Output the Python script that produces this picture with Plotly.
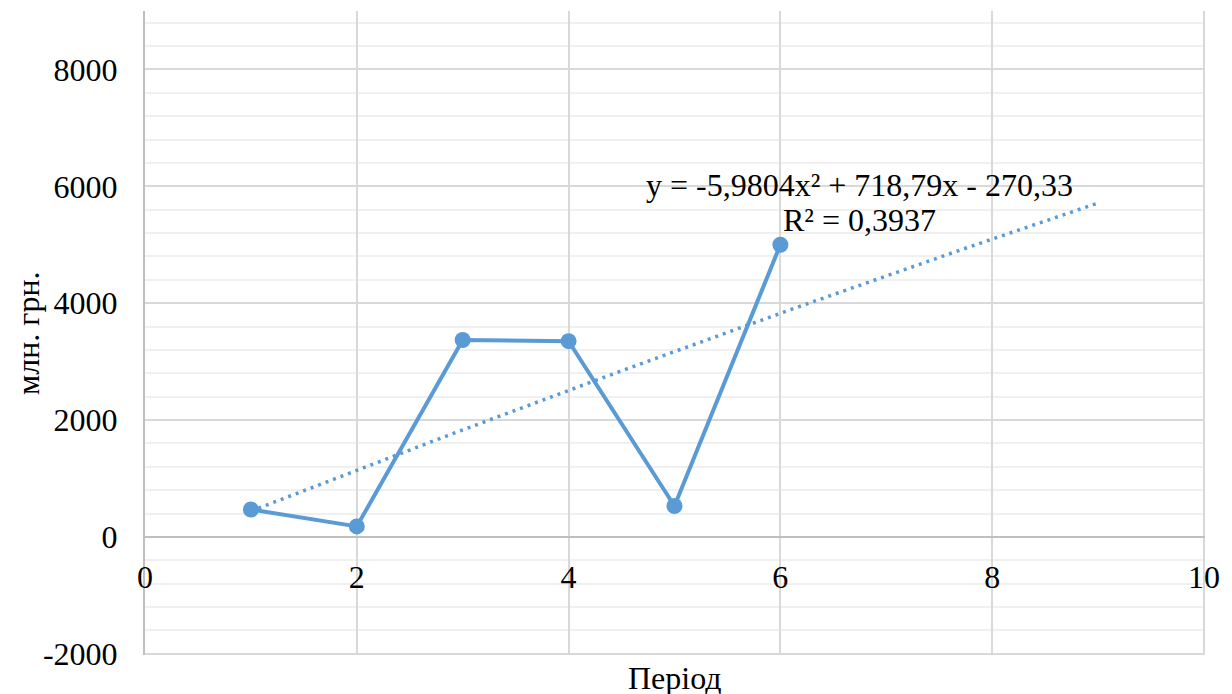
import numpy as np
import plotly.graph_objects as go

# Data
periods = [1, 2, 3, 4, 5, 6]
values = [470, 180, 3370, 3350, 530, 5000]

# Trendline (polynomial, order 2) coefficients as shown on the chart
trend_coefs = [-5.9804, 718.79, -270.33]
trend_x_range = [1, 9]

x_ticks = [0, 2, 4, 6, 8, 10]
y_ticks = [-2000, 0, 2000, 4000, 6000, 8000]
y_tick_text = ["-2000", "0", "2000", "4000", "6000", "8000"]

x_title = "Період"
y_title = "млн. грн."
eq_line1 = "y = -5,9804x² + 718,79x - 270,33"
eq_line2 = "R² = 0,3937"

COLOR = "#5B9BD5"
FONT = "Liberation Serif, Times New Roman, DejaVu Serif, serif"
FS = 32

tx = np.linspace(trend_x_range[0], trend_x_range[1], 100)
ty = np.polyval(trend_coefs, tx)

fig = go.Figure()
fig.add_trace(go.Scatter(
    x=tx, y=ty, mode="lines",
    line=dict(color=COLOR, width=3.5, dash="3px,5px"),
    hoverinfo="skip", showlegend=False,
))
fig.add_trace(go.Scatter(
    x=periods, y=values, mode="lines+markers",
    line=dict(color=COLOR, width=4),
    marker=dict(color=COLOR, size=16),
    showlegend=False,
))

fig.add_annotation(
    x=6.745, y=6016, xref="x", yref="y", yanchor="middle",
    text=eq_line1, showarrow=False, align="center",
    font=dict(family=FONT, size=FS, color="#000000"),
)
fig.add_annotation(
    x=6.745, y=5418, xref="x", yref="y", yanchor="middle",
    text=eq_line2, showarrow=False, align="center",
    font=dict(family=FONT, size=FS, color="#000000"),
)
fig.add_annotation(
    x=0.5, y=0, xref="paper", yref="paper", yshift=-3, yanchor="top",
    text=x_title, showarrow=False,
    font=dict(family=FONT, size=FS, color="#000000"),
)
fig.add_annotation(
    x=0, y=0.5, xref="paper", yref="paper", xshift=-117, xanchor="center",
    text=y_title, showarrow=False, textangle=-90, borderpad=0,
    font=dict(family=FONT, size=FS, color="#000000"),
)

fig.update_layout(
    width=1232, height=694,
    margin=dict(l=137, r=35, t=3, b=47),
    paper_bgcolor="white", plot_bgcolor="white",
    font=dict(family=FONT, size=FS, color="#000000"),
    xaxis=dict(
        range=[0, 10.01], tickvals=x_ticks,
        showgrid=True, gridcolor="#d9d9d9", gridwidth=1.5,
        zeroline=False, showline=True, linecolor="#bfbfbf", linewidth=2,
        anchor="free", position=2020 / 11020,
        ticks="", ticklabelstandoff=12, automargin=False,
    ),
    yaxis=dict(
        range=[-2020, 9000], tickvals=y_ticks, ticktext=y_tick_text,
        showgrid=True, gridcolor="#d9d9d9", gridwidth=1.5,
        minor=dict(dtick=400, tick0=0, showgrid=True, gridcolor="#f0f0f0", gridwidth=1.5),
        zeroline=True, zerolinecolor="#bfbfbf", zerolinewidth=2,
        showline=True, linecolor="#bfbfbf", linewidth=2,
        ticks="", ticklabelstandoff=19, automargin=False,
    ),
)

fig.write_html("out.html")
